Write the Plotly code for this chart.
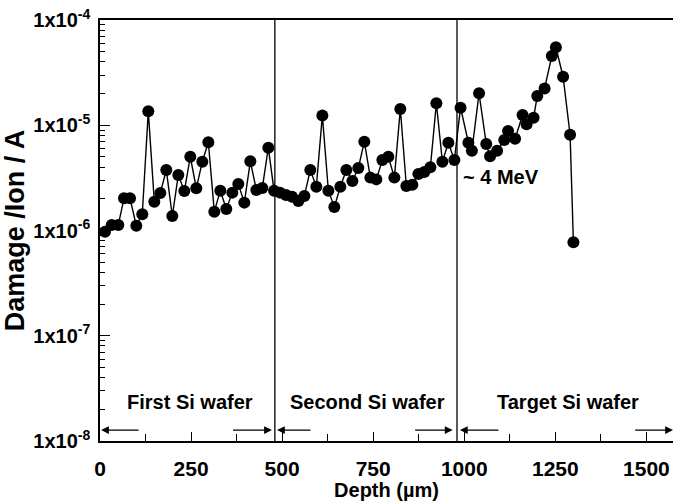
import math
import plotly.graph_objects as go

depth_um = [13.7, 32.1, 50.2, 65.9, 82.4, 99.7, 116.1, 132.6, 149.1, 165.6,
            182.0, 198.5, 215.0, 231.5, 247.9, 264.4, 280.9, 297.4, 313.8, 330.3,
            346.8, 363.3, 379.7, 396.2, 412.7, 429.2, 445.6, 462.1, 477.8, 494.2,
            510.7, 527.2, 544.5, 561.0, 577.4, 593.9, 610.4, 626.9, 643.3, 659.8,
            676.3, 692.8, 709.2, 725.7, 742.2, 758.6, 775.1, 791.6, 808.1, 824.5,
            841.0, 857.5, 874.0, 890.4, 906.9, 923.4, 939.9, 956.3, 972.8, 989.8,
            1011.3, 1020.9, 1040.6, 1060.4, 1070.8, 1090.1, 1109.8, 1120.3, 1139.5, 1160.1,
            1171.1, 1190.3, 1200.4, 1220.5, 1240.3, 1251.5, 1271.3, 1290.5, 1299.6]

damage = [0.975e-6, 1.13e-6, 1.13e-6, 2.02e-6, 2.02e-6, 1.11e-6, 1.43e-6, 1.36e-5, 1.88e-6, 2.27e-6,
          3.76e-6, 1.37e-6, 3.37e-6, 2.37e-6, 5.02e-6, 2.52e-6, 4.51e-6, 6.89e-6, 1.51e-6, 2.39e-6,
          1.60e-6, 2.29e-6, 2.77e-6, 1.84e-6, 4.54e-6, 2.43e-6, 2.54e-6, 6.12e-6, 2.39e-6, 2.29e-6,
          2.17e-6, 2.09e-6, 1.91e-6, 2.13e-6, 3.76e-6, 2.61e-6, 1.24e-5, 2.39e-6, 1.67e-6, 2.61e-6,
          3.76e-6, 2.95e-6, 3.93e-6, 6.98e-6, 3.18e-6, 3.06e-6, 4.68e-6, 5.02e-6, 3.18e-6, 1.43e-5,
          2.65e-6, 2.72e-6, 3.44e-6, 3.60e-6, 3.98e-6, 1.62e-5, 4.51e-6, 6.83e-6, 4.68e-6, 1.47e-5,
          6.83e-6, 5.73e-6, 2.01e-5, 6.63e-6, 5.07e-6, 5.73e-6, 7.24e-6, 8.82e-6, 7.43e-6, 1.25e-5,
          1.02e-5, 1.18e-5, 1.90e-5, 2.24e-5, 4.55e-5, 5.51e-5, 2.89e-5, 8.13e-6, 7.73e-7]

x_ticks = [0, 250, 500, 750, 1000, 1250, 1500]
y_ticks = [1e-8, 1e-7, 1e-6, 1e-5, 1e-4]
y_ticktext = ["1x10<sup>-8</sup>", "1x10<sup>-7</sup>", "1x10<sup>-6</sup>",
              "1x10<sup>-5</sup>", "1x10<sup>-4</sup>"]
y_minor = [m * 10.0 ** e for e in range(-8, -4) for m in range(2, 10)]

wafer_boundaries = [480, 980]
wafer_labels = ["First Si wafer", "Second Si wafer", "Target Si wafer"]
wafer_label_x = [247, 733, 1285]
energy_label = "~ 4 MeV"
energy_label_pos = (1101, 3.24e-6)

# arrows: (tail_x, head_x)
arrows = [(110, 3), (361, 472), (582, 486), (861, 968), (1098, 988), (1465, 1573)]
arrow_y = 1.27e-8
label_y = 2.35e-8

FONT = "Liberation Sans, Arial, sans-serif"

fig = go.Figure()
fig.add_trace(go.Scatter(
    x=depth_um, y=damage, mode="lines+markers",
    line=dict(color="black", width=1.4),
    marker=dict(color="black", size=12, symbol="circle"),
    showlegend=False,
))

for xb in wafer_boundaries:
    fig.add_shape(type="line", xref="x", yref="paper", x0=xb, x1=xb, y0=0, y1=1,
                  line=dict(color="black", width=1.3))

for tail, head in arrows:
    fig.add_annotation(x=head, y=math.log10(arrow_y), ax=tail, ay=math.log10(arrow_y),
                       xref="x", yref="y", axref="x", ayref="y",
                       text="", showarrow=True, arrowhead=2, arrowsize=1.2,
                       arrowwidth=1.3, arrowcolor="black")

for lab, lx in zip(wafer_labels, wafer_label_x):
    fig.add_annotation(x=lx, y=math.log10(label_y), xref="x", yref="y", text=lab,
                       showarrow=False,
                       font=dict(family=FONT, size=20, color="black", weight="bold"))

fig.add_annotation(x=energy_label_pos[0], y=math.log10(energy_label_pos[1]), xref="x", yref="y",
                   text=energy_label, showarrow=False,
                   font=dict(family=FONT, size=20, color="black", weight="bold"))

fig.update_xaxes(
    range=[0, 1573], tickvals=x_ticks, ticks="inside", ticklen=9, tickwidth=1.3,
    tickcolor="black", showline=True, linecolor="black", linewidth=1.5, mirror=True,
    showgrid=False, zeroline=False, ticklabelstandoff=8,
    minor=dict(dtick=125, tick0=0, ticks="inside", ticklen=7, tickcolor="black", showgrid=False),
    tickfont=dict(family=FONT, size=21, color="black", weight="bold"),
    title=dict(text="Depth (µm)", standoff=0,
               font=dict(family=FONT, size=20, color="black", weight="bold")),
)
fig.update_yaxes(
    type="log", range=[-8, -4], tickvals=y_ticks, ticktext=y_ticktext,
    ticks="inside", ticklen=10, tickwidth=1.3, tickcolor="black",
    showline=True, linecolor="black", linewidth=1.5, mirror=False,
    showgrid=False, zeroline=False, ticklabelstandoff=4,
    minor=dict(tickvals=y_minor, ticks="inside", ticklen=5, tickcolor="black", showgrid=False),
    tickfont=dict(family=FONT, size=20, color="black", weight="bold"),
    title=dict(text="Damage /Ion / A", standoff=10,
               font=dict(family=FONT, size=27, color="black", weight="bold")),
)

fig.update_layout(
    width=673, height=501,
    margin=dict(l=100, r=0, t=20, b=60),
    paper_bgcolor="white", plot_bgcolor="white",
)

fig.write_html("out.html")
